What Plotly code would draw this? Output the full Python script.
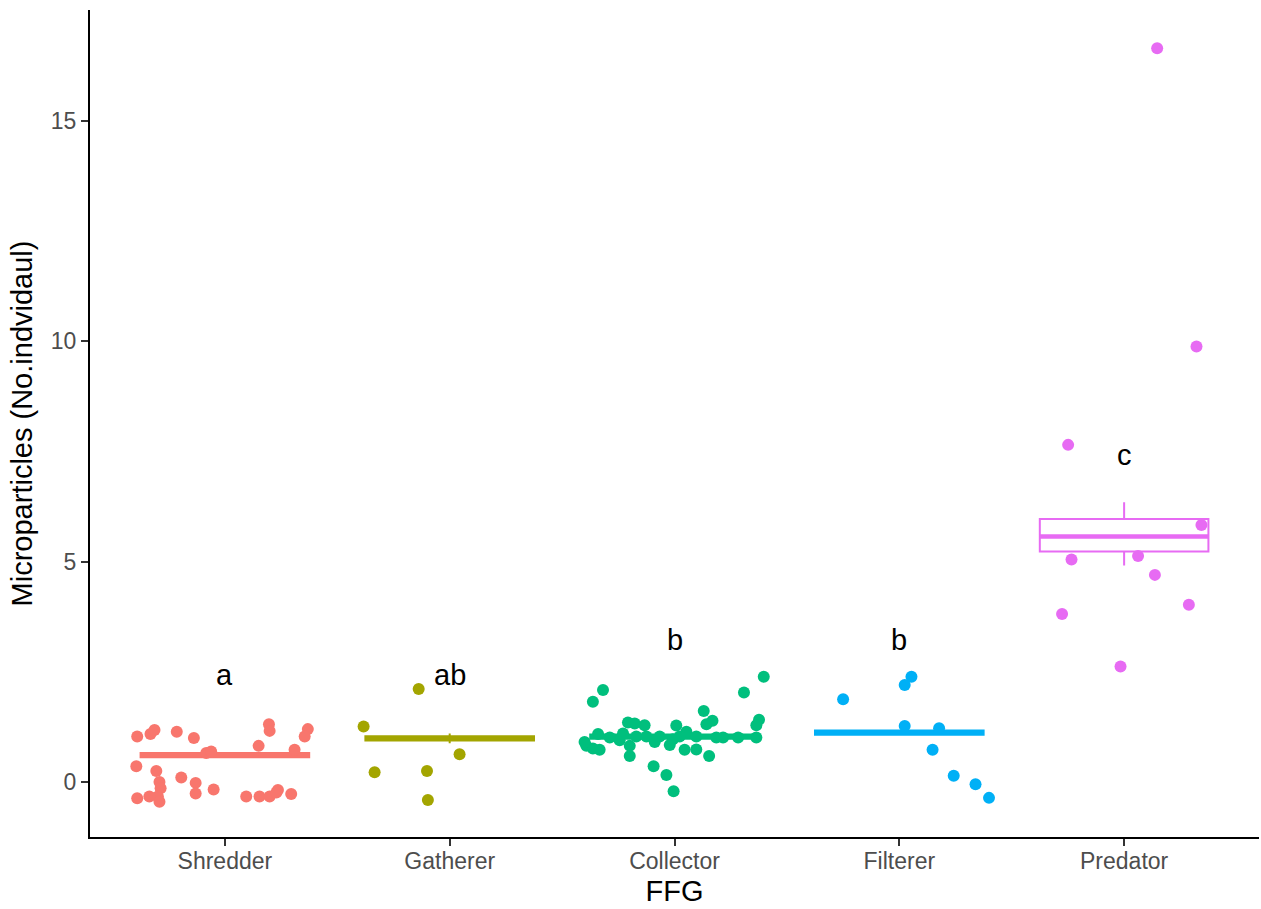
import plotly.graph_objects as go

# Functional feeding groups
groups = ["Shredder", "Gatherer", "Collector", "Filterer", "Predator"]
colors = ["#F8766D", "#A3A500", "#00BF7D", "#00B0F6", "#E76BF3"]

# Box statistics per group
q1 = [0.56, 0.94, 0.98, 1.07, 5.23]
median = [0.61, 0.99, 1.03, 1.12, 5.57]
q3 = [0.66, 1.04, 1.08, 1.17, 5.97]
lower_whisker = [0.56, 0.88, 0.98, 1.07, 4.91]
upper_whisker = [0.66, 1.10, 1.08, 1.17, 6.35]

# Significance letters and their heights
letters = ["a", "ab", "b", "b", "c"]
letter_y = [2.42, 2.42, 3.22, 3.22, 7.42]

# Jittered observations: horizontal jitter offset and value
shredder_jitter = [-0.390, -0.331, -0.313, -0.214, -0.138, -0.083, -0.061, 0.150, 0.196, 0.199,
                   0.310, 0.369, 0.355, -0.394, -0.305, -0.291, -0.286, -0.298, -0.291, -0.390,
                   -0.336, -0.194, -0.130, -0.130, -0.050, 0.095, 0.154, 0.199, 0.236, 0.229, 0.295]
shredder_vals = [1.03, 1.09, 1.18, 1.14, 1.00, 0.66, 0.69, 0.82, 1.31, 1.16,
                 0.73, 1.20, 1.03, 0.36, 0.25, 0.00, -0.14, -0.33, -0.45, -0.37,
                 -0.33, 0.10, -0.02, -0.26, -0.17, -0.33, -0.33, -0.33, -0.18, -0.24, -0.27]

gatherer_jitter = [-0.138, -0.383, -0.334, -0.101, -0.097, 0.044]
gatherer_vals = [2.11, 1.26, 0.22, 0.25, -0.41, 0.63]

collector_jitter = [-0.363, -0.318, 0.309, 0.397, 0.130, 0.142, 0.169, 0.376, 0.364, -0.207,
                    -0.177, -0.133, 0.008, 0.053, -0.340, -0.392, -0.363, -0.333, -0.400, -0.244,
                    -0.229, -0.199, -0.199, -0.170, -0.088, -0.021, -0.007, 0.045, 0.097, 0.154,
                    0.216, 0.364, -0.093, -0.036, -0.004, -0.125, -0.066, 0.097, 0.283, 0.186,
                    -0.288, 0.023]
collector_vals = [1.82, 2.09, 2.03, 2.39, 1.61, 1.31, 1.39, 1.41, 1.29, 1.35,
                  1.33, 1.29, 1.28, 1.14, 1.09, 0.82, 0.76, 0.73, 0.91, 0.95,
                  1.10, 0.82, 0.59, 1.03, 0.91, 0.84, 0.97, 0.73, 0.74, 0.59,
                  1.01, 1.01, 0.36, 0.16, -0.21, 1.03, 1.03, 1.03, 1.01, 1.01,
                  1.01, 1.03]

filterer_jitter = [-0.250, 0.024, 0.054, 0.024, 0.177, 0.148, 0.242, 0.339, 0.399]
filterer_vals = [1.88, 2.20, 2.39, 1.27, 1.22, 0.73, 0.14, -0.05, -0.36]

predator_jitter = [-0.249, 0.344, -0.234, 0.062, 0.137, 0.288, -0.276, -0.016, 0.147, 0.322]
predator_vals = [7.65, 5.83, 5.05, 5.13, 4.70, 4.02, 3.81, 2.62, 16.65, 9.88]

jitters = [shredder_jitter, gatherer_jitter, collector_jitter, filterer_jitter, predator_jitter]
values = [shredder_vals, gatherer_vals, collector_vals, filterer_vals, predator_vals]

BOX_WIDTH = 0.75
FONT = "Liberation Sans, Arial, Helvetica, sans-serif"

fig = go.Figure()

# Boxes
for i, g in enumerate(groups):
    fig.add_trace(go.Box(
        x=[i], q1=[q1[i]], median=[median[i]], q3=[q3[i]],
        lowerfence=[lower_whisker[i]], upperfence=[upper_whisker[i]],
        width=BOX_WIDTH, whiskerwidth=0,
        line=dict(color=colors[i], width=2), fillcolor="white",
        boxpoints=False, name=g, showlegend=False, hoverinfo="skip",
    ))

# Thicker median bars
for i, g in enumerate(groups):
    fig.add_trace(go.Scatter(
        x=[i - BOX_WIDTH / 2, i + BOX_WIDTH / 2], y=[median[i], median[i]],
        mode="lines", line=dict(color=colors[i], width=4.5),
        showlegend=False, hoverinfo="skip",
    ))

# Jittered points
for i, g in enumerate(groups):
    fig.add_trace(go.Scatter(
        x=[i + j for j in jitters[i]], y=values[i],
        mode="markers", marker=dict(color=colors[i], size=12, line=dict(width=0)),
        name=g, showlegend=False,
    ))

# Letters
for i, lab in enumerate(letters):
    fig.add_annotation(x=i, y=letter_y[i], text=lab, showarrow=False,
                       font=dict(family=FONT, size=29, color="black"),
                       xanchor="center", yanchor="middle")

fig.update_layout(
    width=1261, height=909,
    margin=dict(l=90, r=2, t=10, b=72),
    paper_bgcolor="white", plot_bgcolor="white",
    boxmode="overlay", showlegend=False,
    font=dict(family=FONT),
)

fig.update_xaxes(
    range=[-0.6, 4.6], tickmode="array", tickvals=list(range(len(groups))), ticktext=groups,
    showgrid=False, zeroline=False,
    showline=True, linecolor="black", linewidth=2,
    ticks="outside", ticklen=7, tickwidth=2, tickcolor="#333333",
    ticklabelstandoff=-5,
    tickfont=dict(family=FONT, size=23, color="#4D4D4D"),
    title=dict(text="FFG", font=dict(family=FONT, size=29, color="black"), standoff=8),
)

fig.update_yaxes(
    range=[-1.248, 17.518], tickmode="array", tickvals=[0, 5, 10, 15],
    showgrid=False, zeroline=False,
    showline=True, linecolor="black", linewidth=2,
    ticks="outside", ticklen=7, tickwidth=2, tickcolor="#333333",
    tickfont=dict(family=FONT, size=23, color="#4D4D4D"),
    title=dict(text="Microparticles (No.indvidaul)", font=dict(family=FONT, size=29, color="black"), standoff=10),
)

fig.write_html("out.html")
